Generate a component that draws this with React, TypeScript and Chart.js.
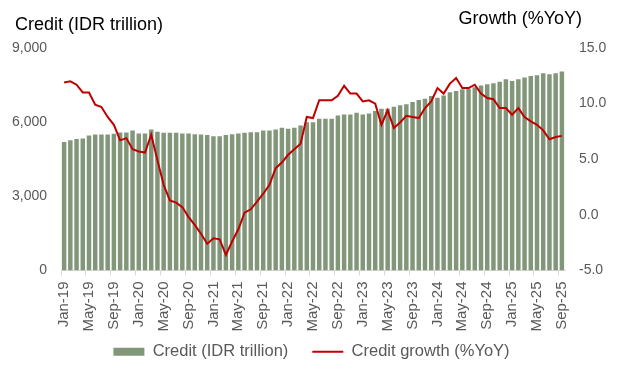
import React, { useEffect, useRef } from "react";
import { Chart, registerables } from "chart.js";

Chart.register(...registerables);

const MONTHS = ["Jan", "Feb", "Mar", "Apr", "May", "Jun", "Jul", "Aug", "Sep", "Oct", "Nov", "Dec"];
const YEARS = ["19", "20", "21", "22", "23", "24", "25"];
const LAST_MONTH_COUNT = 81;

const LABELS: string[] = [];
for (const y of YEARS) {
  for (const m of MONTHS) {
    if (LABELS.length < LAST_MONTH_COUNT) LABELS.push(`${m}-${y}`);
  }
}

// Credit outstanding (IDR trillion), Jan-19 .. Sep-25
const CREDIT = [
  5200, 5265, 5323, 5335, 5457, 5498, 5498, 5498, 5530, 5580, 5580, 5661,
  5540, 5540, 5700, 5610, 5570, 5570, 5570, 5540, 5540, 5510, 5500, 5485,
  5430, 5430, 5485, 5510, 5540, 5575, 5590, 5590, 5660, 5660, 5700, 5770,
  5730, 5770, 5865, 6000, 6000, 6140, 6140, 6140, 6270, 6310, 6310, 6380,
  6310, 6355, 6450, 6545, 6545, 6625, 6680, 6720, 6815, 6895, 6950, 7060,
  6990, 7075, 7210, 7265, 7330, 7360, 7410, 7480, 7535, 7575, 7630, 7740,
  7670, 7740, 7810, 7870, 7900, 7980, 7940, 7980, 8050,
];

// Credit growth (%YoY)
const GROWTH = [
  11.9, 12.0, 11.7, 11.0, 11.0, 9.9, 9.7, 8.8, 8.1, 6.7, 6.9, 5.9,
  5.7, 5.6, 7.2, 4.9, 2.7, 1.3, 1.1, 0.7, -0.2, -0.9, -1.7, -2.6,
  -2.1, -2.2, -3.6, -2.4, -1.3, 0.2, 0.5, 1.2, 1.9, 2.7, 4.2, 4.7,
  5.4, 5.9, 6.4, 8.8, 8.7, 10.3, 10.3, 10.3, 10.7, 11.6, 10.9, 10.9,
  10.2, 10.3, 10.0, 8.1, 9.4, 7.8, 8.3, 8.9, 8.8, 8.7, 9.6, 10.2,
  11.4, 10.9, 11.8, 12.3, 11.4, 11.4, 11.7, 10.9, 10.5, 10.4, 9.6, 9.6,
  9.0, 9.6, 8.8, 8.4, 8.1, 7.6, 6.8, 7.0, 7.1,
];

const LEFT_TICKS = [0, 3000, 6000, 9000];
const RIGHT_TICKS = [-5, 0, 5, 10, 15];

const SERIES_NAMES = ["Credit (IDR trillion)", "Credit growth (%YoY)"];
const LEFT_TITLE = "Credit (IDR trillion)";
const RIGHT_TITLE = "Growth (%YoY)";

const FONT = "'Liberation Sans', Arial, sans-serif";
const BAR_COLOR = "#82977a";
const LINE_COLOR = "#c00000";
const TICK_COLOR = "#595959";
const AXIS_COLOR = "#d9d9d9";

const titlesPlugin = {
  id: "axisTitles",
  afterDraw(chart: any) {
    const { ctx, chartArea } = chart;
    ctx.save();
    ctx.fillStyle = "#000000";
    ctx.font = `18px ${FONT}`;
    ctx.textBaseline = "alphabetic";
    ctx.textAlign = "left";
    ctx.fillText(LEFT_TITLE, chartArea.left - 46, 30);
    ctx.textAlign = "right";
    ctx.fillText(RIGHT_TITLE, chartArea.right + 17, 24);
    ctx.restore();
  },
};

// Shrinks the legend's reserved height (keeping horizontal item spacing) and lifts its items
const LEGEND_SHRINK = 19;
const LEGEND_LIFT = 18;
const legendFitPlugin = {
  id: "legendFit",
  afterInit(chart: any) {
    const legend = chart.legend;
    if (!legend) return;
    const origFit = legend.fit.bind(legend);
    legend.fit = function () {
      origFit();
      this.height = Math.max(0, this.height - LEGEND_SHRINK);
    };
    const origDraw = legend.draw.bind(legend);
    legend.draw = function (area: any) {
      const t = this.top;
      this.top = t - LEGEND_LIFT;
      origDraw(area);
      this.top = t;
    };
  },
};

export default function App() {
  const canvasRef = useRef<HTMLCanvasElement | null>(null);

  useEffect(() => {
    if (!canvasRef.current) return;
    const chart = new Chart(canvasRef.current, {
      type: "bar",
      data: {
        labels: LABELS,
        datasets: [
          {
            type: "line",
            label: SERIES_NAMES[1],
            data: GROWTH,
            yAxisID: "y1",
            borderColor: LINE_COLOR,
            backgroundColor: LINE_COLOR,
            borderWidth: 2,
            pointRadius: 0,
            tension: 0,
            order: 0,
          } as any,
          {
            type: "bar",
            label: SERIES_NAMES[0],
            data: CREDIT,
            yAxisID: "y",
            backgroundColor: BAR_COLOR,
            borderWidth: 0,
            barPercentage: 0.72,
            categoryPercentage: 1,
            order: 1,
          },
        ],
      },
      options: {
        responsive: false,
        animation: false,
        layout: { padding: { top: 48, left: 0, right: 0, bottom: 4 } },
        plugins: {
          tooltip: { enabled: false },
          legend: {
            position: "bottom",
            reverse: true,
            labels: {
              usePointStyle: true,
              pointStyleWidth: 31,
              boxHeight: 8,
              padding: 24,
              color: TICK_COLOR,
              font: { family: FONT, size: 16.5 },
              generateLabels: (c: any) => {
                const items = Chart.defaults.plugins.legend.labels.generateLabels(c);
                items.forEach((it: any) => {
                  if (it.text === SERIES_NAMES[0]) {
                    it.pointStyle = "rect";
                    it.fillStyle = BAR_COLOR;
                    it.strokeStyle = BAR_COLOR;
                    it.lineWidth = 0;
                  } else {
                    it.pointStyle = "line";
                    it.strokeStyle = LINE_COLOR;
                    it.lineWidth = 2;
                  }
                });
                return items;
              },
            },
          },
        },
        scales: {
          x: {
            offset: true,
            grid: {
              offset: true,
              drawOnChartArea: false,
              drawTicks: true,
              tickLength: 5,
              color: (ctx: any) => (ctx.index % 4 === 0 ? AXIS_COLOR : "rgba(0,0,0,0)"),
            },
            border: { display: true, color: AXIS_COLOR, width: 1 },
            ticks: {
              autoSkip: false,
              maxRotation: 90,
              minRotation: 90,
              padding: 6,
              color: TICK_COLOR,
              font: { family: FONT, size: 15 },
              callback: (_v: any, i: number) => (i % 4 === 0 ? LABELS[i] : ""),
            },
          },
          y: {
            position: "left",
            min: LEFT_TICKS[0],
            max: LEFT_TICKS[LEFT_TICKS.length - 1],
            afterBuildTicks: (s: any) => {
              s.ticks = LEFT_TICKS.map((v) => ({ value: v }));
            },
            afterFit: (s: any) => {
              s.width = 61;
            },
            grid: { display: false, drawTicks: false },
            border: { display: false },
            ticks: {
              padding: 14,
              color: TICK_COLOR,
              font: { family: FONT, size: 14 },
              callback: (v: any) => Number(v).toLocaleString("en-US"),
            },
          },
          y1: {
            position: "right",
            min: RIGHT_TICKS[0],
            max: RIGHT_TICKS[RIGHT_TICKS.length - 1],
            afterBuildTicks: (s: any) => {
              s.ticks = RIGHT_TICKS.map((v) => ({ value: v }));
            },
            afterFit: (s: any) => {
              s.width = 58;
            },
            grid: { display: false, drawTicks: false },
            border: { display: false },
            ticks: {
              padding: 14,
              color: TICK_COLOR,
              font: { family: FONT, size: 14 },
              callback: (v: any) => Number(v).toFixed(1),
            },
          },
        },
      },
      plugins: [titlesPlugin, legendFitPlugin],
    });
    return () => chart.destroy();
  }, []);

  return (
    <div style={{ position: "fixed", left: 0, top: 0, width: 623, height: 373, background: "#ffffff" }}>
      <canvas ref={canvasRef} width={623} height={373} style={{ display: "block" }} />
    </div>
  );
}
